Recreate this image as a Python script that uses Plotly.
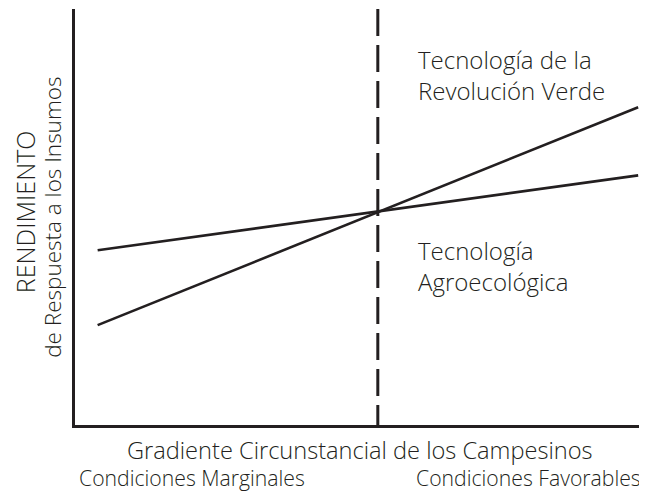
import plotly.graph_objects as go

# gradient position (0 = marginal, 100 = favourable) and relative yield
x_pos = [4, 99.5]
revolucion_verde = [24, 76.4]
agroecologica = [42, 60]
x_cruce = 53.5

texto = '#231f20'
fuente = 'Open Sans'

fig = go.Figure()
fig.add_trace(go.Scatter(x=x_pos, y=revolucion_verde, mode='lines',
                         line=dict(color=texto, width=2.6), name='Revolución Verde'))
fig.add_trace(go.Scatter(x=x_pos, y=agroecologica, mode='lines',
                         line=dict(color=texto, width=2.6), name='Agroecológica'))

# dashed divider
fig.add_shape(type='line', xref='x', yref='y', x0=x_cruce, x1=x_cruce, y0=100, y1=0,
              line=dict(color=texto, width=3, dash='27px,9px'))

notas = [
    dict(text='Tecnología de la<br>Revolución Verde', x=0.603, y=0.841, xanchor='left', size=24),
    dict(text='Tecnología<br>Agroecológica', x=0.603, y=0.382, xanchor='left', size=24),
    dict(text='Gradiente Circunstancial de los Campesinos', x=0.504, y=-0.06, xanchor='center', size=23.6),
    dict(text='Condiciones Marginales', x=0.004, y=-0.125, xanchor='left', size=21.2),
    dict(text='Condiciones Favorables', x=1.004, y=-0.125, xanchor='right', size=21.2),
]
for n in notas:
    fig.add_annotation(text=n['text'], x=n['x'], y=n['y'], xref='paper', yref='paper',
                       xanchor=n['xanchor'], yanchor='middle', showarrow=False, align='left',
                       font=dict(family=fuente, size=n['size'], color=texto, weight=300))

fig.add_annotation(text='RENDIMIENTO', x=-0.088, y=0.512, xref='paper', yref='paper',
                   textangle=-90, showarrow=False, xanchor='center', yanchor='middle',
                   font=dict(family=fuente, size=25, color=texto, weight=300))
fig.add_annotation(text='de Respuesta a los Insumos', x=-0.041, y=0.5, xref='paper', yref='paper',
                   textangle=-90, showarrow=False, xanchor='center', yanchor='middle',
                   font=dict(family=fuente, size=22.5, color=texto, weight=300))

fig.update_xaxes(range=[0, 100], showline=True, linewidth=3, linecolor=texto,
                 showgrid=False, zeroline=False, showticklabels=False, ticks='')
fig.update_yaxes(range=[0, 100], showline=True, linewidth=3, linecolor=texto,
                 showgrid=False, zeroline=False, showticklabels=False, ticks='')
# page body adds an 8px margin, so the figure is sized/offset to compensate
fig.update_layout(width=639, height=483, showlegend=False,
                  margin=dict(l=67, r=6, t=1, b=66),
                  plot_bgcolor='white', paper_bgcolor='white')

fig.write_html('out.html')
